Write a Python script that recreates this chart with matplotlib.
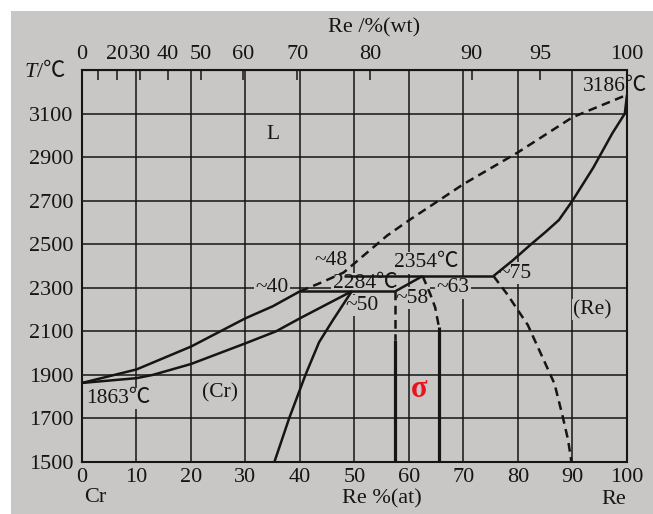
import matplotlib
matplotlib.use('Agg')
from matplotlib import pyplot as plt
from matplotlib.patches import Rectangle

plt.rcParams['font.family'] = ['Liberation Serif', 'Noto Sans CJK SC']

bg = '#c8c7c5'
ink = '#151515'

# Cr side liquidus and solidus (at.% Re, T in C)
liq_cr_x = [0, 10, 20, 25, 30, 35, 40]
liq_cr_t = [1863, 1925, 2030, 2095, 2160, 2215, 2284]
sol_cr_x = [0, 10, 13, 20, 30, 35.6, 40, 49.5]
sol_cr_t = [1863, 1885, 1900, 1950, 2045, 2100, 2160, 2284]
# (Cr) solvus
solv_cr_x = [49.5, 46, 43.5, 41, 38, 35.3]
solv_cr_t = [2284, 2150, 2050, 1900, 1700, 1500]
# dashed liquidus up to Re melting point
liq_re_x = [40, 44, 48, 52, 56, 60, 70, 80, 90, 100]
liq_re_t = [2284, 2325, 2370, 2455, 2540, 2610, 2776, 2922, 3083, 3186]
# (Re) solidus
sol_re_x = [75.5, 79, 82.4, 85, 87.5, 90, 93.8, 97.3, 99.6, 100]
sol_re_t = [2354, 2425, 2500, 2555, 2611, 2700, 2851, 3009, 3100, 3186]
# (Re) solvus, dashed
solv_re_x = [75.5, 78, 81.8, 84.4, 86.7, 88.2, 89.2, 89.8]
solv_re_t = [2354, 2271, 2129, 1986, 1859, 1709, 1600, 1500]
# invariant lines
eut_x, eut_t = [40, 57.5], 2284
per_x, per_t = [48, 75.5], 2354
# sigma phase
sig_left_x, sig_left_t = 57.5, [2284, 2060, 1500]
sig_apex_x = [57.5, 62.5]
sig_apex_t = [2284, 2354]
sig_right_x = [62.5, 63.9, 64.8, 65.5]
sig_right_t = [2354, 2271, 2210, 2119]
sig_right_v, sig_right_vt = 65.5, [2119, 1500]

# top axis: wt.% labels at their at.% positions
wt_pos = [0, 6.5, 10.7, 15.7, 21.8, 29.5, 39.5, 52.8, 71.5, 84.1, 100]
wt_lab = ['0', '20', '30', '40', '50', '60', '70', '80', '90', '95', '100']
wt_minor = [3.0]

W, H = 653, 514
fig = plt.figure(figsize=(W / 100, H / 100), dpi=100, facecolor='white')
fig.patches.append(Rectangle((11 / W, 0), 1, 1 - 11 / H, transform=fig.transFigure,
                             facecolor=bg, edgecolor='none', zorder=-10))
ax = fig.add_axes([82 / W, 1 - 462 / H, 545 / W, 392 / H])
ax.set_facecolor(bg)
ax.set_xlim(0, 100)
ax.set_ylim(1500, 3300)

ax.set_xticks(range(0, 101, 10))
ax.set_yticks(range(1500, 3301, 200))
ax.set_yticklabels([str(v) for v in range(1500, 3101, 200)] + [''])
ax.grid(True, color=ink, lw=1.1)
ax.set_axisbelow(True)
ax.tick_params(length=0, labelsize=16, colors=ink)
ax.tick_params(axis='x', pad=4)
ax.tick_params(axis='y', pad=6)
for s in ax.spines.values():
    s.set_linewidth(1.5)
    s.set_color(ink)

top = ax.secondary_xaxis('top')
top.set_xticks(wt_pos, wt_lab)
top.set_xticks(wt_minor, minor=True)
top.tick_params(direction='in', length=7, width=1.1, labelsize=16, colors=ink, pad=4)
top.tick_params(which='minor', direction='in', length=7, width=1.1, colors=ink)

lw = 1.8
solid = dict(color=ink, lw=lw, zorder=4, solid_capstyle='butt')
dash = dict(color=ink, lw=lw, zorder=4, linestyle=(0, (3.5, 2.2)))
thick = dict(color=ink, lw=2.3, zorder=4, solid_capstyle='butt')

ax.plot(liq_cr_x, liq_cr_t, **solid)
ax.plot(sol_cr_x, sol_cr_t, **solid)
ax.plot(solv_cr_x, solv_cr_t, **solid)
ax.plot(liq_re_x, liq_re_t, **dash)
ax.plot(sol_re_x, sol_re_t, **solid)
ax.plot(solv_re_x, solv_re_t, **dash)
ax.plot(eut_x, [eut_t, eut_t], **solid)
ax.plot(per_x, [per_t, per_t], **solid)
ax.plot([sig_left_x, sig_left_x], sig_left_t[:2], **dash)
ax.plot([sig_left_x, sig_left_x], sig_left_t[1:], **thick)
ax.plot(sig_apex_x, sig_apex_t, **solid)
ax.plot(sig_right_x, sig_right_t, **dash)
ax.plot([sig_right_v, sig_right_v], sig_right_vt, **thick)

mask = dict(facecolor=bg, edgecolor='none', pad=1)
labels = [
    ('L', 35.0, 3004), ('~48', 45.7, 2424), ('2354℃', 63.1, 2414),
    ('~40', 34.8, 2300), ('2284℃', 51.9, 2319), ('~50', 51.4, 2219),
    ('~58', 60.6, 2252), ('~63', 68.1, 2300), ('~75', 79.5, 2367),
    ('(Re)', 93.6, 2200), ('(Cr)', 25.4, 1818), ('1863℃', 6.6, 1791),
]
for txt, x, t in labels:
    ax.text(x, t, txt, fontsize=15.5, color=ink, ha='center', va='center',
            bbox=mask, zorder=3)
ax.text(97.8, 3226, '3186℃', fontsize=15.5, color=ink, ha='center', va='center', zorder=3)
ax.text(61.9, 1832, 'σ', fontsize=22, color='#e8141c', fontweight='bold',
        ha='center', va='center', zorder=3)

fig.text(25 / W, 1 - 73 / H, 'T', fontsize=16, style='italic', color=ink, va='center')
fig.text(37 / W, 1 - 73 / H, '/℃', fontsize=16, color=ink, va='center')
fig.text(374 / W, 1 - 28 / H, 'Re /%(wt)', fontsize=16, color=ink, ha='center', va='center')
fig.text(95 / W, 1 - 498 / H, 'Cr', fontsize=16, color=ink, ha='center', va='center')
fig.text(382 / W, 1 - 499 / H, 'Re %(at)', fontsize=16, color=ink, ha='center', va='center')
fig.text(614 / W, 1 - 500 / H, 'Re', fontsize=16, color=ink, ha='center', va='center')

fig.savefig('out.png', dpi=100, facecolor=fig.get_facecolor())
